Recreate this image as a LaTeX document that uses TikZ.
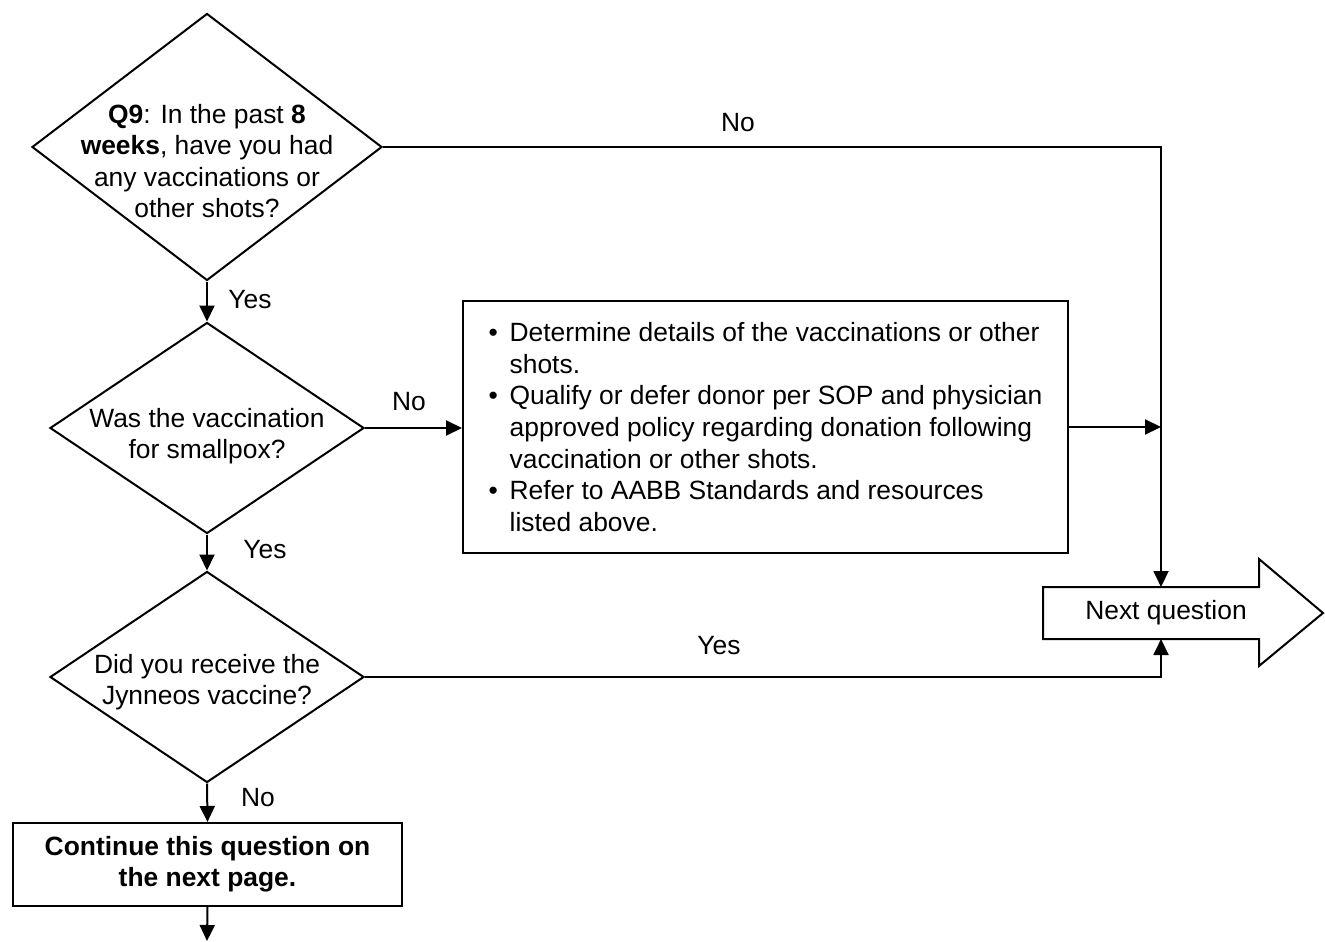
\documentclass[tikz,border=0pt]{standalone}
\usepackage{fontspec}
\setmainfont{Liberation Sans}
\usetikzlibrary{shapes.geometric,positioning,calc,arrows.meta}

\begin{document}
\begin{tikzpicture}[x=0.5pt,y=-0.5pt,>={Triangle[length=8pt,width=7.5pt]},line width=1pt,
    font=\fontsize{13.2}{15.6}\selectfont,
    decision/.style={draw,diamond,inner sep=0pt},
    qtext/.style={align=center,inner sep=0pt},
    actbox/.style={draw,rectangle,align=left,inner sep=0pt,font=\fontsize{13.2}{15.85}\selectfont},
    lbl/.style={inner sep=1pt}]
  \useasboundingbox (0,0) rectangle (1325,941);
  % decisions
  \node[decision,minimum width=175pt,minimum height=133.5pt] (q9) at (207,147) {};
  \node[qtext] (q9t) at (207,161) {\textbf{Q9}: In the past \textbf{8}\\\textbf{weeks}, have you had\\any vaccinations or\\other shots?};
  \node[decision,minimum width=157pt,minimum height=105.5pt] (smp) at (207,428) {};
  \node[qtext] (smpt) at (207,436) {Was the vaccination\\for smallpox?};
  \node[decision,minimum width=157pt,minimum height=105.5pt] (jyn) at (207,677) {};
  \node[qtext] (jynt) at (207,682) {Did you receive the\\Jynneos vaccine?};
  % boxes
  \node[actbox,minimum width=302.5pt,minimum height=126pt] (act) at (765.5,427) {%
    \makebox[10.5pt][l]{\textbullet}Determine details of the vaccinations or other\\
    \hspace*{10.5pt}shots.\\
    \makebox[10.5pt][l]{\textbullet}Qualify or defer donor per SOP and physician\\
    \hspace*{10.5pt}approved policy regarding donation following\\
    \hspace*{10.5pt}vaccination or other shots.\\
    \makebox[10.5pt][l]{\textbullet}Refer to AABB Standards and resources\\
    \hspace*{10.5pt}listed above.};
  \node[draw,align=center,font=\fontsize{13.2}{15.6}\selectfont\bfseries,minimum width=194.5pt,minimum height=41.5pt] (cont) at (207.5,864.5) {Continue this question on\\the next page.};
  \node (next) at (1166,613) {Next question};
  \draw ($(next)+(-123,-26)$) -- ($(next)+(93,-26)$) -- ($(next)+(93,-54)$) -- ($(next)+(157,0)$)
    -- ($(next)+(93,53)$) -- ($(next)+(93,26)$) -- ($(next)+(-123,26)$) -- cycle;
  \coordinate (nqtop) at (1161,587);
  \coordinate (nqbot) at (1161,639);
  \coordinate (cont2) at (207,941);
  % connectors
  \draw[->] (q9.south) -- (smp.north);
  \draw[->] (smp.south) -- (jyn.north);
  \draw[->] (jyn.south) -- (cont.north);
  \draw[->] (cont.south) -- (cont2);
  \draw[->] (smp.east) -- (act.west |- smp.east);
  \draw[->] (q9.east) -- (q9.east -| nqtop) -- (nqtop);
  \draw[->] (act.east) -- (act.east -| nqtop);
  \draw[->] (jyn.east) -- (jyn.east -| nqbot) -- (nqbot);
  % labels
  \node[lbl] (y1) at (250,300) {Yes};
  \node[lbl] (n1) at (409,402) {No};
  \node[lbl] (y2) at (265,550) {Yes};
  \node[lbl] (n2) at (258,798) {No};
  \node[lbl] (n3) at (738,123) {No};
  \node[lbl] (y3) at (719,646) {Yes};
\end{tikzpicture}
\end{document}
